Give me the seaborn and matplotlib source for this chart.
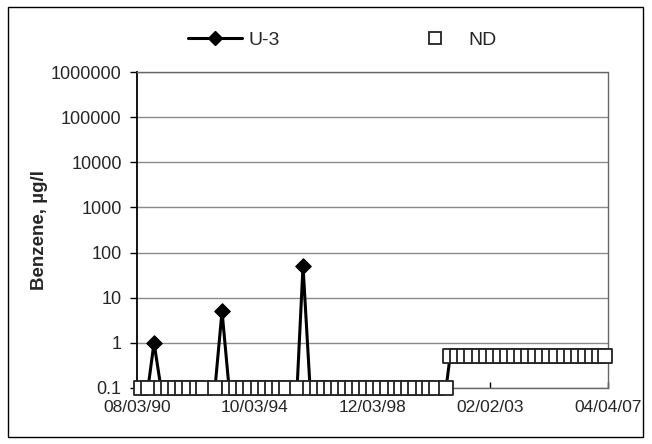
import matplotlib
matplotlib.use("Agg")
import matplotlib.pyplot as plt
import matplotlib.dates as mdates
from matplotlib.lines import Line2D
from matplotlib.patches import Rectangle
from matplotlib.ticker import FixedLocator, FixedFormatter, NullLocator
import seaborn as sns
import pandas as pd

# ---- data ----
sample_dates = [
    "1990-09-24", "1990-12-23", "1991-03-11", "1991-06-09", "1991-09-10",
    "1991-12-10", "1992-03-12", "1992-06-10", "1992-09-14", "1992-12-08",
    "1993-05-07", "1993-08-06", "1993-11-05", "1994-02-08", "1994-05-10",
    "1994-08-09", "1994-11-08", "1995-02-07", "1995-05-09", "1995-08-08",
    "1995-11-07", "1996-04-02", "1996-06-18", "1996-09-17", "1996-12-10",
    "1997-03-11", "1997-06-10", "1997-09-09", "1997-12-09", "1998-03-10",
    "1998-06-09", "1998-09-08", "1998-12-08", "1999-03-09", "1999-06-08",
    "1999-09-14", "1999-12-07", "2000-03-07", "2000-06-06", "2000-09-12",
    "2000-12-05", "2001-03-06", "2001-07-11",
    "2001-09-01", "2001-12-04", "2002-03-05", "2002-06-04", "2002-09-10",
    "2002-12-03", "2003-03-04", "2003-06-03", "2003-09-09", "2003-12-02",
    "2004-03-02", "2004-06-08", "2004-09-07", "2004-12-07", "2005-03-08",
    "2005-06-07", "2005-09-13", "2005-12-06", "2006-03-07", "2006-06-06",
    "2006-09-12", "2006-12-05", "2007-02-26",
]
benzene = [
    0.1, 0.1, 1, 0.1, 0.1,
    0.1, 0.1, 0.1, 0.1, 0.1,
    0.1, 5, 0.1, 0.1, 0.1,
    0.1, 0.1, 0.1, 0.1, 0.1,
    0.1, 0.1, 50, 0.1, 0.1,
    0.1, 0.1, 0.1, 0.1, 0.1,
    0.1, 0.1, 0.1, 0.1, 0.1,
    0.1, 0.1, 0.1, 0.1, 0.1,
    0.1, 0.1, 0.1,
    0.5, 0.5, 0.5, 0.5, 0.5,
    0.5, 0.5, 0.5, 0.5, 0.5,
    0.5, 0.5, 0.5, 0.5, 0.5,
    0.5, 0.5, 0.5, 0.5, 0.5,
    0.5, 0.5, 0.5,
]
detected_dates = ["1991-03-11", "1993-08-06", "1996-06-18"]

x_tick_dates = ["1990-08-03", "1994-10-03", "1998-12-03", "2003-02-02", "2007-04-04"]
x_tick_labels = ["08/03/90", "10/03/94", "12/03/98", "02/02/03", "04/04/07"]
y_ticks = [0.1, 1, 10, 100, 1000, 10000, 100000, 1000000]
y_tick_labels = ["0.1", "1", "10", "100", "1000", "10000", "100000", "1000000"]

# ---- frames ----
df = pd.DataFrame({"date": pd.to_datetime(sample_dates), "benzene": benzene})
df["nd"] = ~df["date"].isin(pd.to_datetime(detected_dates))
det = df[~df["nd"]]
nd = df[df["nd"]]

sns.set_theme(style="white")
plt.rcParams["font.family"] = ["Liberation Sans", "DejaVu Sans"]

W, H = 652, 444
fig = plt.figure(figsize=(W / 100, H / 100), dpi=100)
L, R, T, B = 137, 608, 72, 388
ax = fig.add_axes([L / W, 1 - B / H, (R - L) / W, (B - T) / H])

sns.lineplot(data=df, x="date", y="benzene", ax=ax, color="black",
             linewidth=2.2, estimator=None, sort=True, legend=False, zorder=3)
sns.scatterplot(data=det, x="date", y="benzene", ax=ax, marker="D", s=62,
                color="black", edgecolor="black", linewidth=0.8,
                legend=False, zorder=4, clip_on=False)
sns.scatterplot(data=nd, x="date", y="benzene", ax=ax, marker="s", s=88,
                color="white", edgecolor="#222222", linewidth=1.3,
                legend=False, zorder=5, clip_on=False)

ax.set_yscale("log")
ax.set_ylim(0.1, 1000000)
ax.set_xlim(pd.Timestamp(x_tick_dates[0]), pd.Timestamp(x_tick_dates[-1]))

ax.yaxis.set_major_locator(FixedLocator(y_ticks))
ax.yaxis.set_major_formatter(FixedFormatter(y_tick_labels))
ax.yaxis.set_minor_locator(NullLocator())
xt = [mdates.date2num(pd.Timestamp(d)) for d in x_tick_dates]
ax.set_xticks(xt)
ax.set_xticklabels(x_tick_labels)

ax.grid(axis="y", color="#8a8a8a", linewidth=1.0, linestyle="-")
ax.grid(axis="x", visible=False)
ax.set_axisbelow(True)

ax.tick_params(axis="y", which="major", left=True, direction="out", length=5,
               width=1, color="black", labelsize=13, pad=6)
ax.tick_params(axis="x", which="major", bottom=True, direction="in", length=4,
               width=1, color="black", labelsize=12.5, pad=9)

for side in ["top", "right", "bottom"]:
    ax.spines[side].set_visible(True)
    ax.spines[side].set_color("#666666")
    ax.spines[side].set_linestyle((0, (1, 1)))
    ax.spines[side].set_linewidth(1.0)
ax.spines["left"].set_color("black")
ax.spines["left"].set_linewidth(1.3)

ax.set_xlabel("")
ax.set_ylabel("Benzene, µg/l", fontsize=13.5, fontweight="bold")
ax.yaxis.set_label_coords(-0.19, 0.5)

handles = [
    Line2D([0], [0], color="black", lw=2.2, marker="D", markersize=7,
           markerfacecolor="black"),
    Line2D([0], [0], color="none", marker="s", markersize=9,
           markerfacecolor="white", markeredgecolor="#222222",
           markeredgewidth=1.3),
]
fig.legend(handles, ["U-3", "ND"], loc="center",
           bbox_to_anchor=(342 / W, 1 - 40 / H), ncol=2, frameon=False,
           fontsize=14, handlelength=2.8, handletextpad=0.3,
           columnspacing=6.6)

fig.patches.append(Rectangle((8 / W, 7 / H), (643 - 8) / W, (437 - 7) / H,
                             transform=fig.transFigure, fill=False,
                             edgecolor="black", linewidth=1.0))

fig.savefig("out.png", dpi=100)
